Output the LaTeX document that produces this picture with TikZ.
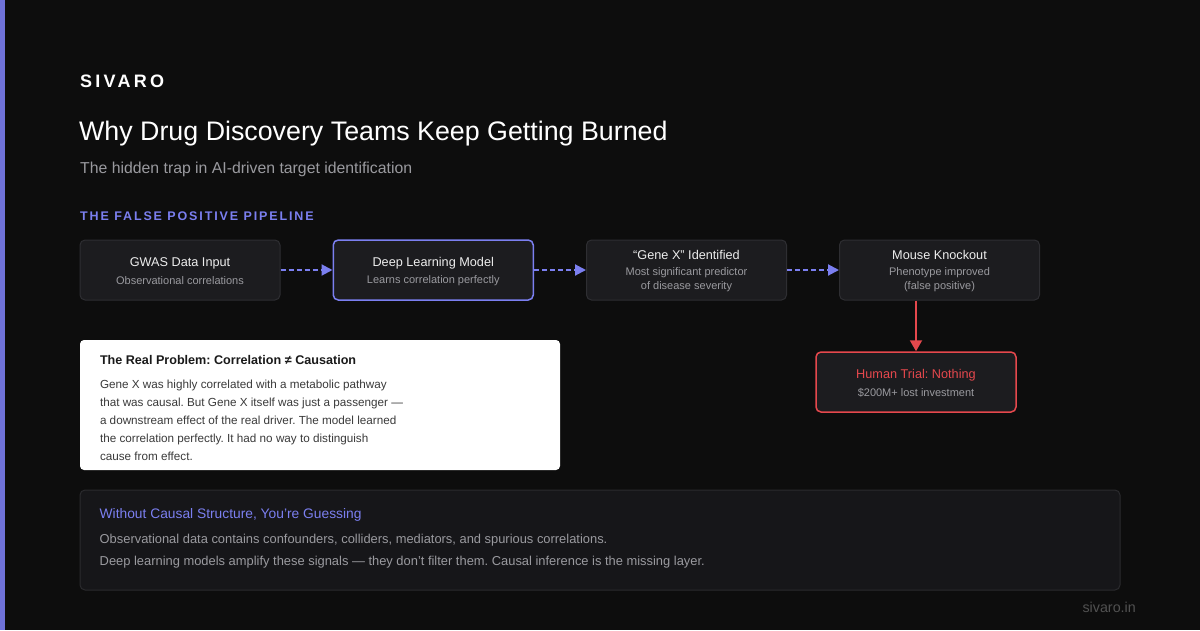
\documentclass[tikz,border=0pt]{standalone}
\usepackage{fontspec}
\setmainfont{Liberation Sans}
\usepackage{xcolor}
\usetikzlibrary{arrows.meta,positioning,calc}

\definecolor{bgdark}{HTML}{0D0D0D}
\definecolor{accent}{HTML}{7B7FF0}
\definecolor{cardfill}{HTML}{1C1C1F}
\definecolor{cardline}{HTML}{2E2E32}
\definecolor{titlegrey}{HTML}{EDEDED}
\definecolor{subgrey}{HTML}{9A9A9F}
\definecolor{failred}{HTML}{E5484D}
\definecolor{notefill}{HTML}{161619}
\definecolor{noteline}{HTML}{2A2A2E}
\definecolor{inkdark}{HTML}{1A1A1A}
\definecolor{inkbody}{HTML}{3A3A3A}

\newcommand{\px}[1]{\fontsize{#1}{#1}\selectfont}
\frenchspacing

\begin{document}
\begin{tikzpicture}[
  x=1pt, y=-1pt,
  card/.style={draw=cardline, line width=1pt, fill=cardfill, rounded corners=5pt, minimum width=200pt, minimum height=60pt, inner sep=0pt},
  hotcard/.style={card, draw=accent, line width=1.5pt},
  failcard/.style={card, draw=failred, line width=1.5pt},
  cardtitle/.style={font=\px{12.7}, text=titlegrey, inner sep=0pt},
  cardsub/.style={font=\fontsize{11}{14}\selectfont, text=subgrey, align=center, inner sep=0pt},
  flow/.style={-{Triangle[length=11pt,width=11pt]}, line width=2pt, color=accent, dash pattern=on 5pt off 3pt},
  fail/.style={-{Triangle[length=11pt,width=12pt]}, line width=2pt, color=failred},
]

% canvas and accent bar
\fill[bgdark] (0,0) rectangle (1200,630);
\useasboundingbox (0,0) rectangle (1200,630);
\fill[accent!90!black] (0,0) rectangle (5,630);

% header
\node[anchor=west, inner sep=0pt, text=white, font=\bfseries\addfontfeature{LetterSpace=18}\px{18}] (brand) at (80,81) {SIVARO};
\node[anchor=west, inner sep=0pt, text=white, font=\px{26.8}] (headline) at (79,134) {Why Drug Discovery Teams Keep Getting Burned};
\node[anchor=west, inner sep=0pt, text=subgrey, font=\px{15.8}] (tagline) at (80,169) {The hidden trap in AI-driven target identification};
\node[anchor=west, inner sep=0pt, text=accent, font=\bfseries\addfontfeature{LetterSpace=15}\px{12.5}] (section) at (80,216) {THE FALSE POSITIVE PIPELINE};

% pipeline
\node[card] (gwas) at (180,270) {};
\node[hotcard, right=52pt of gwas] (dlm) {};
\node[card, right=52pt of dlm] (genex) {};
\node[card, right=52pt of genex] (mouse) {};
\node[failcard] (trial) at (916,382) {};

\node[cardtitle] at ($(gwas.center)+(0,-6.5)$) {GWAS Data Input};
\node[cardsub] at ($(gwas.center)+(0,10.5)$) {Observational correlations};
\node[cardtitle] at ($(dlm.center)+(0,-6.5)$) {Deep Learning Model};
\node[cardsub] at ($(dlm.center)+(0,10.5)$) {Learns correlation perfectly};
\node[cardtitle] at ($(genex.center)+(0,-15)$) {“Gene X” Identified};
\node[cardsub] at ($(genex.center)+(0,9.5)$) {Most significant predictor\\of disease severity};
\node[cardtitle] at ($(mouse.center)+(0,-15)$) {Mouse Knockout};
\node[cardsub] at ($(mouse.center)+(0,9.5)$) {Phenotype improved\\(false positive)};
\node[cardtitle, text=failred] at ($(trial.center)+(0,-7)$) {Human Trial: Nothing};
\node[cardsub] at ($(trial.center)+(0,10.5)$) {\$200M+ lost investment};

\draw[flow] (gwas) -- (dlm);
\draw[flow] (dlm) -- (genex);
\draw[flow] (genex) -- (mouse);
\draw[fail] (trial.north |- mouse.south) -- (trial.north);

% explanation card
\node[fill=white, rounded corners=4pt, minimum width=480pt, minimum height=130pt, inner sep=0pt] (problem) at (320,405) {};
\node[anchor=west, inner sep=0pt, text=inkdark, font=\bfseries\px{12.6}] at ($(problem.north west)+(20,20)$) {The Real Problem: Correlation \symbol{"2260} Causation};
\node[anchor=north west, inner sep=0pt, align=left, text=inkbody, font=\fontsize{11.7}{18}\selectfont] at ($(problem.north west)+(20,40.5)$) {Gene X was highly correlated with a metabolic pathway\\that was causal. But Gene X itself was just a passenger —\\a downstream effect of the real driver. The model learned\\the correlation perfectly. It had no way to distinguish\\cause from effect.};

% takeaway
\node[draw=noteline, line width=1pt, fill=notefill, rounded corners=5pt, minimum width=1040pt, minimum height=100pt, inner sep=0pt] (takeaway) at (600,540) {};
\node[anchor=west, inner sep=0pt, text=accent, font=\px{13.8}] at ($(takeaway.north west)+(20,25)$) {Without Causal Structure, You’re Guessing};
\node[anchor=west, inner sep=0pt, text=subgrey, font=\px{12.9}] at ($(takeaway.north west)+(20,51)$) {Observational data contains confounders, colliders, mediators, and spurious correlations.};
\node[anchor=west, inner sep=0pt, text=subgrey, font=\px{12.9}] at ($(takeaway.north west)+(20,73)$) {Deep learning models amplify these signals — they don’t filter them. Causal inference is the missing layer.};

\node[anchor=east, inner sep=0pt, text=white!28!bgdark, font=\px{14.3}] (site) at (1136,607) {sivaro.in};

\end{tikzpicture}
\end{document}
